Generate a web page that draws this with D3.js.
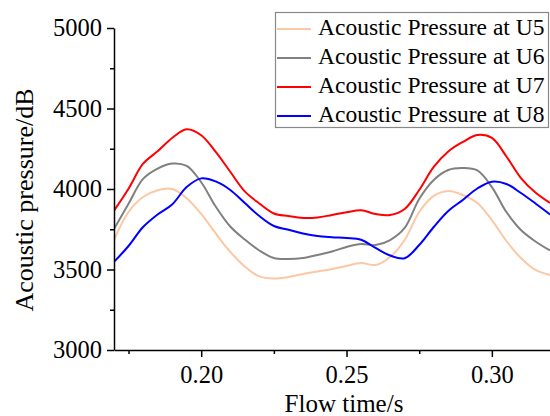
<!DOCTYPE html>
<html>
<head>
<meta charset="utf-8">
<script src="https://cdn.jsdelivr.net/npm/d3@7"></script>
<style>
  body { margin: 0; background: #fff; }
  svg { display: block; font-family: "Liberation Serif", "Times New Roman", serif; }
</style>
</head>
<body>
<svg id="chart" width="550" height="416"></svg>
<script>
// flow time (s), sampled every 0.005 s
const times = [0.170, 0.175, 0.180, 0.185, 0.190, 0.195, 0.200, 0.205, 0.210, 0.215,
  0.220, 0.225, 0.230, 0.235, 0.240, 0.245, 0.250, 0.255, 0.260, 0.265,
  0.270, 0.275, 0.280, 0.285, 0.290, 0.295, 0.300, 0.305, 0.310, 0.315, 0.320];

const u5 = [3683, 3857, 3950, 3992, 4000, 3943, 3845, 3724, 3609, 3519,
  3457, 3444, 3453, 3472, 3488, 3503, 3522, 3540, 3528, 3578,
  3683, 3857, 3957, 3988, 3963, 3913, 3807, 3677, 3571, 3497, 3466];
const u6 = [3752, 3908, 4063, 4127, 4158, 4143, 4042, 3891, 3767, 3686,
  3618, 3571, 3565, 3571, 3590, 3612, 3640, 3658, 3652, 3683,
  3758, 3938, 4056, 4118, 4130, 4115, 4012, 3857, 3745, 3674, 3618];
const u7 = [3866, 4002, 4157, 4234, 4317, 4371, 4334, 4230, 4107, 3985,
  3910, 3848, 3832, 3820, 3823, 3839, 3855, 3868, 3845, 3839,
  3876, 3994, 4137, 4233, 4292, 4335, 4317, 4202, 4068, 3978, 3913];
const u8 = [3547, 3646, 3764, 3842, 3904, 4012, 4066, 4047, 3994, 3913,
  3832, 3770, 3747, 3724, 3708, 3701, 3696, 3685, 3634, 3587,
  3570, 3652, 3764, 3863, 3932, 4003, 4045, 4031, 3975, 3910, 3842];

const seriesNames = ["Acoustic Pressure at U5", "Acoustic Pressure at U6",
  "Acoustic Pressure at U7", "Acoustic Pressure at U8"];
const seriesColors = ["#fbc8a3", "#808080", "#ff0000", "#0000ff"];

const yTicks = [3000, 3500, 4000, 4500, 5000];
const yMinor = [3250, 3750, 4250, 4750];
const xTicks = [0.20, 0.25, 0.30];
const xMinor = [0.175, 0.225, 0.275];

const series = [u5, u6, u7, u8].map((vals, i) => ({
  name: seriesNames[i],
  color: seriesColors[i],
  points: vals.map((v, j) => ({ t: times[j], v: v })),
}));

const svg = d3.select("#chart");
const plotLeft = 114, plotRight = 550, plotTop = 28, plotBottom = 350;

const x = d3.scaleLinear().domain([0.17, 0.32]).range([plotLeft, plotRight]);
const y = d3.scaleLinear().domain([3000, 5000]).range([plotBottom, plotTop]);

svg.append("defs").append("clipPath").attr("id", "plot-clip")
  .append("rect")
  .attr("x", plotLeft).attr("y", 0)
  .attr("width", plotRight - plotLeft).attr("height", plotBottom);

const line = d3.line()
  .x((d) => x(d.t))
  .y((d) => y(d.v))
  .curve(d3.curveCatmullRom.alpha(0.5));

svg.append("g")
  .attr("clip-path", "url(#plot-clip)")
  .selectAll("path")
  .data(series)
  .join("path")
  .attr("fill", "none")
  .attr("stroke", (d) => d.color)
  .attr("stroke-width", 2)
  .attr("d", (d) => line(d.points));

// axes
const styleAxis = (g) => {
  g.select(".domain").attr("stroke", "#000").attr("stroke-width", 1.5);
  g.selectAll(".tick line").attr("stroke", "#000").attr("stroke-width", 1.5);
  g.selectAll(".tick text").attr("fill", "#000")
    .style("font-size", "24.5px").style("font-family", "Liberation Serif, Times New Roman, serif");
};

svg.append("g")
  .attr("transform", `translate(${plotLeft},0)`)
  .call(d3.axisLeft(y).tickValues(yTicks).tickSize(7).tickPadding(5)
    .tickFormat(d3.format("d")).tickSizeOuter(0))
  .call(styleAxis);
svg.append("g")
  .attr("transform", `translate(${plotLeft},0)`)
  .call(d3.axisLeft(y).tickValues(yMinor).tickSize(4).tickFormat(""))
  .call((g) => g.select(".domain").remove())
  .call(styleAxis);

svg.append("g")
  .attr("transform", `translate(0,${plotBottom})`)
  .call(d3.axisBottom(x).tickValues(xTicks).tickSize(7).tickPadding(9)
    .tickFormat(d3.format(".2f")).tickSizeOuter(0))
  .call(styleAxis);
svg.append("g")
  .attr("transform", `translate(0,${plotBottom})`)
  .call(d3.axisBottom(x).tickValues(xMinor).tickSize(4).tickFormat(""))
  .call((g) => g.select(".domain").remove())
  .call(styleAxis);

// axis titles
svg.append("text")
  .attr("transform", "translate(33,200) rotate(-90)")
  .attr("text-anchor", "middle")
  .style("font-size", "26px")
  .text("Acoustic pressure/dB");

svg.append("text")
  .attr("x", 344).attr("y", 412)
  .attr("text-anchor", "middle")
  .style("font-size", "25px")
  .text("Flow time/s");

// legend
const legend = svg.append("g").attr("transform", "translate(275,12)");
legend.append("rect")
  .attr("x", 0.5).attr("y", 0.5)
  .attr("width", 273).attr("height", 115)
  .attr("fill", "#fff")
  .attr("stroke", "#888")
  .attr("stroke-width", 1.2);

const items = legend.selectAll(".item")
  .data(series)
  .join("g")
  .attr("class", "item")
  .attr("transform", (d, i) => `translate(0,${17 + i * 29})`);
items.append("line")
  .attr("x1", 2).attr("x2", 36)
  .attr("stroke", (d) => d.color)
  .attr("stroke-width", 2);
items.append("text")
  .attr("x", 43).attr("y", 0)
  .attr("dy", "0.25em")
  .style("font-size", "23.5px")
  .text((d) => d.name);
</script>
</body>
</html>
